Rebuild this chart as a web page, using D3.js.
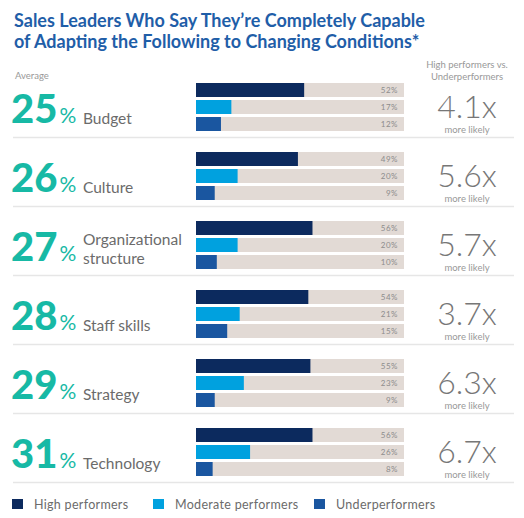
<!DOCTYPE html>
<html>
<head>
<meta charset="utf-8">
<script src="https://cdn.jsdelivr.net/npm/d3@7"></script>
<style>
  body { margin: 0; background: #fff; }
  svg { display: block; font-family: Lato, "Open Sans", sans-serif; }
</style>
</head>
<body>
<script>
// chart values
var categories = ["Budget", "Culture", "Organizational structure", "Staff skills", "Strategy", "Technology"];
var averages = [25, 26, 27, 28, 29, 31];
var highPerformers = [52, 49, 56, 54, 55, 56];
var moderatePerformers = [17, 20, 20, 21, 23, 26];
var underperformers = [12, 9, 10, 15, 9, 8];
var multipliers = ["4.1x", "5.6x", "5.7x", "3.7x", "6.3x", "6.7x"];
var seriesNames = ["High performers", "Moderate performers", "Underperformers"];
var seriesColors = ["#0c2a5e", "#00a1df", "#1a56a0"];

var width = 524, height = 518;

var svg = d3.select("body").append("svg")
    .attr("width", width)
    .attr("height", height);

//title
svg.append("text")
    .attr("x", 14).attr("y", 26.5)
    .attr("fill", "#1f5ea8")
    .style("font-size", "18px").style("font-weight", 700)
    .text("Sales Leaders Who Say They\u2019re Completely Capable");
svg.append("text")
    .attr("x", 14).attr("y", 48)
    .attr("fill", "#1f5ea8")
    .style("font-size", "18px").style("font-weight", 700)
    .text("of Adapting the Following to Changing Conditions*");

//column headers
svg.append("text")
    .attr("x", 15).attr("y", 79)
    .attr("fill", "#999")
    .style("font-size", "9.5px")
    .text("Average");
svg.append("text")
    .attr("x", 467).attr("y", 68)
    .attr("text-anchor", "middle")
    .attr("fill", "#999")
    .style("font-size", "9.5px")
    .text("High performers vs.");
svg.append("text")
    .attr("x", 467).attr("y", 80)
    .attr("text-anchor", "middle")
    .attr("fill", "#999")
    .style("font-size", "9.5px")
    .text("Underperformers");

//scales
var x = d3.scaleLinear().domain([0, 100]).range([196, 404]);
var y = d3.scaleBand().domain(categories).range([83, 83 + 6 * 69]);
var ySub = d3.scaleBand().domain(seriesNames).range([0, 48]).paddingInner(3 / 17);

var rows = categories.map(function(c, i) {
    return {
        name: c,
        avg: averages[i],
        mult: multipliers[i],
        values: [highPerformers[i], moderatePerformers[i], underperformers[i]]
    };
});

var groups = svg.selectAll(".group")
    .data(rows)
    .enter()
    .append("g")
    .attr("class", "group")
    .attr("transform", function(d) { return "translate(0," + y(d.name) + ")"; });

//separator lines
groups.append("line")
    .attr("x1", 13).attr("x2", 514)
    .attr("y1", 54.5).attr("y2", 54.5)
    .attr("stroke", "#e6e6e6")
    .attr("stroke-width", 1.5);

//big average numbers
var avgText = groups.append("text")
    .attr("x", 11).attr("y", 40)
    .attr("fill", "#17b9a5");
avgText.append("tspan")
    .style("font-size", "40px").style("font-weight", 900)
    .text(function(d) { return d.avg; });
avgText.append("tspan")
    .attr("dx", 2)
    .style("font-size", "21px")
    .text("%");

//category labels
groups.each(function(d) {
    var g = d3.select(this);
    var words = d.name === "Organizational structure" ? ["Organizational", "structure"] : [d.name];
    words.forEach(function(w, k) {
        g.append("text")
            .attr("x", 83)
            .attr("y", words.length > 1 ? 24 + k * 19 : 41)
            .attr("fill", "#6b6b6b")
            .style("font-size", "15.5px")
            .text(w);
    });
});

//background tracks
groups.selectAll(".track")
    .data(function(d) { return d.values.map(function(v, k) { return { v: v, s: seriesNames[k] }; }); })
    .enter()
    .append("rect")
    .attr("class", "track")
    .attr("x", x(0))
    .attr("y", function(d) { return ySub(d.s); })
    .attr("width", x(100) - x(0))
    .attr("height", ySub.bandwidth())
    .attr("fill", "#e2dad5");

//bars
groups.selectAll(".bar")
    .data(function(d) { return d.values.map(function(v, k) { return { v: v, s: seriesNames[k], c: seriesColors[k] }; }); })
    .enter()
    .append("rect")
    .attr("class", "bar")
    .attr("x", x(0))
    .attr("y", function(d) { return ySub(d.s); })
    .attr("width", function(d) { return x(d.v) - x(0); })
    .attr("height", ySub.bandwidth())
    .attr("fill", function(d) { return d.c; });

//value labels
groups.selectAll(".val")
    .data(function(d) { return d.values.map(function(v, k) { return { v: v, s: seriesNames[k] }; }); })
    .enter()
    .append("text")
    .attr("class", "val")
    .attr("x", 398)
    .attr("y", function(d) { return ySub(d.s) + ySub.bandwidth() / 2 + 3; })
    .attr("text-anchor", "end")
    .attr("fill", "#8c8c8c")
    .style("font-size", "8px")
    .style("letter-spacing", "0.5px")
    .text(function(d) { return d.v + "%"; });

//multipliers
groups.append("text")
    .attr("x", 467).attr("y", 35)
    .attr("text-anchor", "middle")
    .attr("fill", "#777")
    .style("font-size", "32px").style("font-weight", 300)
    .text(function(d) { return d.mult; });
groups.append("text")
    .attr("x", 467).attr("y", 50)
    .attr("text-anchor", "middle")
    .attr("fill", "#999")
    .style("font-size", "9.5px")
    .text("more likely");

//legend
var legendX = [12, 153, 314];
var legend = svg.selectAll(".legend")
    .data(seriesNames)
    .enter()
    .append("g")
    .attr("class", "legend")
    .attr("transform", function(d, i) { return "translate(" + legendX[i] + ",499)"; });
legend.append("rect")
    .attr("width", 11).attr("height", 10)
    .attr("fill", function(d, i) { return seriesColors[i]; });
legend.append("text")
    .attr("x", 22).attr("y", 10)
    .attr("fill", "#6b6b6b")
    .style("font-size", "12.5px")
    .style("letter-spacing", "0.3px")
    .text(function(d) { return d; });
</script>
</body>
</html>
